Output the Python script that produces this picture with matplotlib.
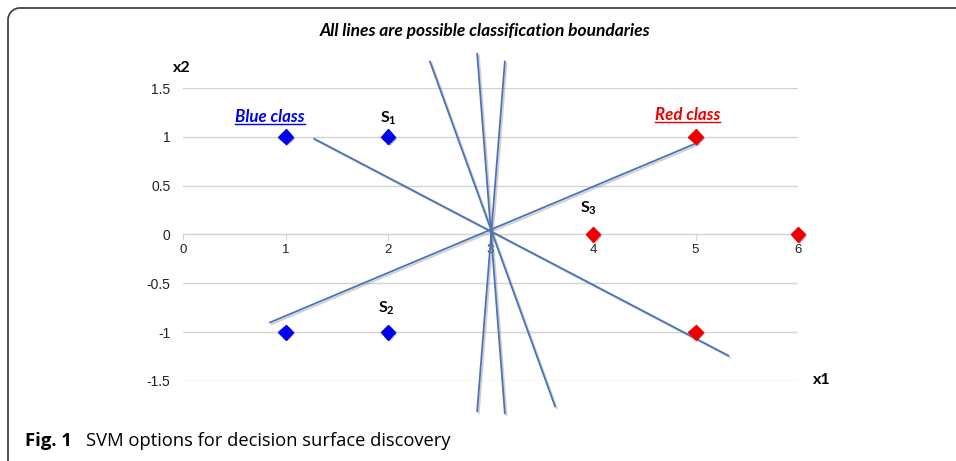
import matplotlib
matplotlib.use("Agg")
import matplotlib.pyplot as plt
import matplotlib.patheffects as pe
import numpy as np
from matplotlib.lines import Line2D

plt.rcParams['font.family'] = ['Liberation Sans', 'DejaVu Sans']
plt.rcParams['mathtext.fontset'] = 'custom'
plt.rcParams['mathtext.bf'] = 'Lato:bold'
plt.rcParams['mathtext.rm'] = 'Lato:bold'

# data
blue_x = [1, 2, 1, 2]
blue_y = [1, 1, -1, -1]
red_x = [5, 4, 6, 5]
red_y = [1, 0, 0, -1]

# candidate boundaries: (x start, x end), (y start, y end)
lines_x = [(1.28, 5.32), (0.85, 5.02), (2.41, 3.63), (2.87, 3.14), (3.14, 2.87)]
lines_y = [(0.98, -1.24), (-0.90, 0.94), (1.77, -1.76), (1.85, -1.83), (1.77, -1.81)]

x_ticks = [0, 1, 2, 3, 4, 5, 6]
y_ticks = [-1.5, -1, -0.5, 0, 0.5, 1, 1.5]
y_labels = ['-1.5', '-1', '-0.5', '0', '0.5', '1', '1.5']

sv_labels = ['S$_1$', 'S$_2$', 'S$_3$']
sv_pos = [(2.0, 1.19), (1.98, -0.75), (3.96, 0.27)]

W, H = 956, 461
fig = plt.figure(figsize=(W / 100, H / 100), dpi=100)
ax = fig.add_axes([183/W, 1 - 381/H, 615/W, 293/H])

ax.set_xlim(0, 6)
ax.set_ylim(-1.5, 1.5)

for y in y_ticks:
    ax.axhline(y, color='#d4d4d4', lw=1.0, zorder=0)

shadow = [pe.SimpleLineShadow(offset=(1.2, -1.2), shadow_color='#777777', alpha=0.35), pe.Normal()]
for lx, ly in zip(lines_x, lines_y):
    ax.plot(lx, ly, color='#4a72b8', lw=1.3, clip_on=False, zorder=3, path_effects=shadow)

mshadow = [pe.SimplePatchShadow(offset=(1.2, -1.2), alpha=0.3), pe.Normal()]
ax.plot(blue_x, blue_y, 'D', color='#0000ee', markersize=7.5, ls='none', zorder=4,
        clip_on=False, path_effects=mshadow)
ax.plot(red_x, red_y, 'D', color='#ee0000', markersize=7.5, ls='none', zorder=4,
        clip_on=False, path_effects=mshadow)

for s in ['top', 'right', 'left']:
    ax.spines[s].set_visible(False)
ax.spines['bottom'].set_position(('data', 0))
ax.spines['bottom'].set_color('#d4d4d4')
ax.set_xticks(x_ticks)
ax.set_xticklabels([str(v) for v in x_ticks])
ax.set_yticks(y_ticks)
ax.set_yticklabels(y_labels)
ax.tick_params(axis='x', length=4, color='#d4d4d4', labelsize=9.5, pad=3, labelcolor='#222222')
ax.tick_params(axis='y', length=0, labelsize=10, pad=9, labelcolor='#222222')

bold_font = ['Lato', 'DejaVu Sans']
for lab, (px, py) in zip(sv_labels, sv_pos):
    ax.text(px, py, lab, fontsize=11.5, fontweight='bold', family=bold_font, ha='center', va='center')

t_blue = ax.text(0.85, 1.2, 'Blue class', color='#0000ee', fontsize=12.2, fontweight='bold',
                 style='italic', family=bold_font, ha='center', va='center')
t_red = ax.text(4.92, 1.22, 'Red class', color='#ee0000', fontsize=12.2, fontweight='bold',
                style='italic', family=bold_font, ha='center', va='center')

fig.text(173/W, 1 - 68/H, 'x2', fontsize=11.5, fontweight='bold', family=bold_font, ha='left', va='center')
fig.text(813/W, 1 - 380/H, 'x1', fontsize=11.5, fontweight='bold', family=bold_font, ha='left', va='center')
fig.text(485/W, 1 - 31/H, 'All lines are possible classification boundaries', fontsize=12.5,
         fontweight='bold', style='italic', family=bold_font, ha='center', va='center')

cap_font = ['Open Sans', 'DejaVu Sans']
fig.text(25/W, 1 - 441/H, 'Fig. 1', fontsize=13.3, fontweight='bold', family=cap_font,
         ha='left', va='center')
fig.text(86/W, 1 - 441/H, 'SVM options for decision surface discovery', fontsize=13.2,
         family=cap_font, ha='left', va='center')

# rounded frame (top and left sides only visible), pixel coords from top-left
r = 12
t = np.linspace(np.pi, np.pi / 2, 20)
cx, cy = 8 + r, 8 + r
fx = np.concatenate([[8, 8], cx + r * np.cos(t), [W]])
fy = np.concatenate([[H + 2, cy], cy - r * np.sin(t), [8]])
fig.add_artist(Line2D(fx / W, 1 - fy / H, color='#444444', lw=1.3, transform=fig.transFigure))

# underlines for class labels
fig.canvas.draw()
rend = fig.canvas.get_renderer()
for txt, c in [(t_blue, '#0000ee'), (t_red, '#ee0000')]:
    bb = txt.get_window_extent(rend).transformed(fig.transFigure.inverted())
    fig.add_artist(Line2D([bb.x0, bb.x1], [bb.y0 + 0.002, bb.y0 + 0.002], color=c, lw=1.0,
                          transform=fig.transFigure))

fig.savefig('out.png', dpi=100)
